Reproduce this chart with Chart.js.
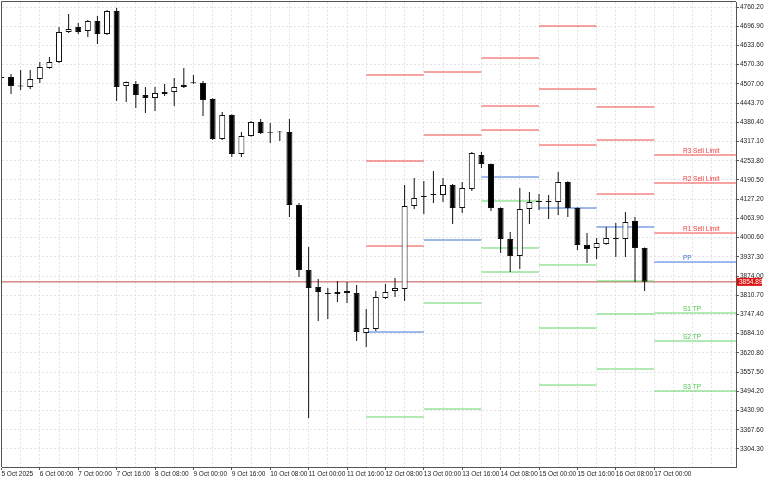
<!DOCTYPE html>
<html><head><meta charset="utf-8">
<script src="https://cdn.jsdelivr.net/npm/chart.js@4.4.1/dist/chart.umd.min.js"></script>
<style>html,body{margin:0;padding:0;background:#fff}#wrap{width:768px;height:480px}</style>
</head><body><div id="wrap"><canvas id="c" width="768" height="480"></canvas></div>
<script>
// ---- data (4h candles) ----
const openP  = [4529.6,4529.6,4501.6,4496.7,4523.0,4559.3,4579.0,4677.9,4694.4,4681.2,4714.1,4671.3,4747.0,4500.0,4506.6,4470.3,4460.5,4473.6,4480.2,4496.7,4512.5,4509.9,4457.2,4325.4,4404.4,4276.0,4335.3,4381.4,4348.0,4350.2,4348.5,4108.0,3893.9,3837.9,3818.1,3814.8,3824.7,3818.1,3686.4,3699.5,3801.7,3824.7,3831.3,4104.7,4134.4,4140.9,4140.9,4173.9,4098.1,4160.7,4272.7,4243.1,4098.1,3996.0,3940.0,4094.8,4121.2,4121.2,4117.9,4183.8,4098.1,3976.2,3966.4,3979.5,3999.3,3996.0,4055.3,3966.4];
const highP  = [4532.9,4539.5,4552.7,4552.7,4579.0,4595.5,4694.4,4737.1,4707.5,4717.4,4730.6,4750.0,4756.9,4514.5,4516.4,4496.7,4496.7,4506.6,4526.3,4559.3,4536.2,4516.4,4460.0,4414.3,4407.0,4348.5,4384.7,4391.3,4378.1,4351.9,4391.3,4114.6,3969.6,3864.2,3834.6,3857.6,3854.3,3844.5,3765.4,3824.7,3847.7,3867.5,4173.9,4197.0,4187.1,4220.0,4197.0,4177.2,4183.8,4282.6,4282.6,4245.0,4100.0,4019.0,4164.0,4150.8,4144.2,4140.9,4216.7,4186.0,4100.0,4015.7,3999.3,4035.6,4048.7,4084.9,4068.5,3968.0];
const lowP   = [4524.0,4473.6,4486.8,4490.1,4509.9,4557.0,4576.0,4674.6,4671.3,4661.4,4638.3,4668.0,4450.6,4447.3,4427.5,4411.0,4417.6,4467.0,4434.1,4493.4,4506.6,4401.2,4322.1,4322.1,4266.1,4266.1,4333.0,4341.9,4312.2,4318.8,4068.5,3870.8,3406.4,3725.9,3732.5,3788.5,3785.2,3660.0,3640.2,3692.9,3798.4,3805.0,3791.8,4094.8,4078.3,4114.6,4117.9,4045.4,4081.6,4154.1,4229.9,4088.2,3949.9,3887.3,3897.2,4045.4,4091.5,4061.9,4075.0,4068.5,3959.8,3917.0,3930.2,3977.0,3936.7,3936.7,3854.3,3824.7];
const closeP = [4526.3,4500.0,4498.3,4523.0,4562.6,4579.0,4677.9,4687.7,4677.9,4714.1,4671.3,4747.0,4496.7,4513.2,4470.3,4460.5,4476.9,4480.2,4496.7,4503.3,4509.9,4453.9,4325.4,4404.4,4276.0,4335.3,4381.4,4345.2,4345.2,4347.5,4108.0,3893.9,3834.6,3821.4,3814.8,3821.4,3818.1,3689.6,3702.8,3805.0,3821.4,3834.6,4104.7,4131.1,4137.6,4144.2,4173.9,4098.1,4164.0,4279.3,4243.1,4098.1,3996.0,3940.0,4094.8,4117.9,4117.9,4117.9,4183.8,4098.1,3976.2,3963.1,3982.8,3999.3,3996.0,4052.0,3966.4,3854.89];
const lastPrice = 3854.89;

const xLabels = ["5 Oct 2025","6 Oct 00:00","7 Oct 00:00","7 Oct 16:00","8 Oct 08:00","9 Oct 00:00","9 Oct 16:00","10 Oct 08:00","11 Oct 00:00","11 Oct 16:00","12 Oct 08:00","13 Oct 00:00","13 Oct 16:00","14 Oct 08:00","15 Oct 00:00","15 Oct 16:00","16 Oct 08:00","17 Oct 00:00"];
const yTicks = [3304.30,3367.60,3430.90,3494.20,3557.50,3620.80,3684.10,3747.40,3810.70,3874.00,3937.30,4000.60,4063.90,4127.20,4190.50,4253.80,4317.10,4380.40,4443.70,4507.00,4570.30,4633.60,4696.90,4760.20];

// daily pivot levels (period start = candle index)
const periodStart = [38,44,50,56,62,68];
const r3 = [4536.2,4546.1,4592.2,4697.6,4430.8,4272.7];
const r2 = [4252.9,4338.6,4434.1,4490.1,4322.1,4180.5];
const r1 = [3972.9,null,4355.0,4305.6,4144.2,4015.7];
const pp = [3689.6,3992.7,4200.2,4098.1,4035.6,3920.2];
const s1 = [3409.7,3785.2,4121.2,3910.4,3857.6,3752.2];
const s2 = [null,null,3966.4,3702.8,3749.0,3660.0];
const s3 = [null,3436.0,3887.3,3515.0,3567.8,3495.3];
const levelNames = ["R3 Sell Limit","R2 Sell Limit","R1 Sell Limit","PP","S1 TP","S2 TP","S3 TP"];

// ---- layout / style ----
const X_MIN = 0.06, X_MAX = 76.52, Y_MIN = 3245.0, Y_MAX = 4776.7;
const LABEL_AT = 71.0;
const RED = '#ee4848', BLUE = '#3f72da', GREEN = '#66d466';
const RED_T = '#ee3b3b', BLUE_T = '#3a6fd0', GREEN_T = '#4cc44c';
const FONT = "'Liberation Sans', Arial, sans-serif";

const levels = [
  {vals:r3, line:RED, text:RED_T}, {vals:r2, line:RED, text:RED_T}, {vals:r1, line:RED, text:RED_T},
  {vals:pp, line:BLUE, text:BLUE_T},
  {vals:s1, line:GREEN, text:GREEN_T}, {vals:s2, line:GREEN, text:GREEN_T}, {vals:s3, line:GREEN, text:GREEN_T}
];
levels.forEach((L, i) => L.name = levelNames[i]);

function levelPoints(vals) {
  const pts = [];
  vals.forEach((v, k) => {
    if (v === null) return;
    const a = periodStart[k];
    const b = k + 1 < periodStart.length ? periodStart[k + 1] : X_MAX;
    pts.push({x: a, y: v}, {x: b, y: v}, {x: b, y: null});
  });
  return pts;
}

const idx = openP.map((_, i) => i);
const up = i => closeP[i] >= openP[i];

const datasets = [];
datasets.push({
  type: 'line', data: [{x: X_MIN, y: lastPrice}, {x: X_MAX, y: lastPrice}],
  borderColor: '#c0504d', borderWidth: 1, pointRadius: 0, order: 6
});
levels.forEach(L => datasets.push({
  type: 'line', data: levelPoints(L.vals), borderColor: L.line, borderWidth: 1,
  pointRadius: 0, tension: 0, spanGaps: false, order: 5
}));
datasets.push({
  type: 'bar', data: idx.map(i => ({x: i, y: [lowP[i], highP[i]]})),
  backgroundColor: '#111', borderWidth: 0, maxBarThickness: 1, grouped: false, inflateAmount: 0, order: 2
});
datasets.push({
  type: 'bar', data: idx.map(i => ({x: i, y: [openP[i], closeP[i]]})),
  backgroundColor: idx.map(i => up(i) ? '#ffffff' : '#000000'),
  borderColor: '#111', borderWidth: 1, borderSkipped: false,
  maxBarThickness: 6, grouped: false, inflateAmount: 0, order: 1
});

const overlay = {
  id: 'overlay',
  afterDatasetsDraw(chart) {
    const {ctx, chartArea: a, scales: {x, y}} = chart;
    ctx.save();
    ctx.strokeStyle = '#555'; ctx.lineWidth = 1;
    ctx.beginPath();
    ctx.moveTo(a.left - 0.5, a.bottom);
    ctx.lineTo(a.left - 0.5, a.top - 0.5);
    ctx.lineTo(a.right, a.top - 0.5);
    ctx.stroke();
    ctx.font = '6.5px ' + FONT;
    ctx.textAlign = 'left'; ctx.textBaseline = 'bottom';
    const k = periodStart.length - 1;
    levels.forEach(L => {
      const v = L.vals[k];
      if (v === null) return;
      ctx.fillStyle = L.text;
      ctx.fillText(L.name, x.getPixelForValue(LABEL_AT), y.getPixelForValue(v) - 1);
    });
    ctx.restore();
  },
  afterDraw(chart) {
    const {ctx, chartArea: a, scales: {y}} = chart;
    const py = y.getPixelForValue(lastPrice);
    ctx.save();
    ctx.fillStyle = '#e01010';
    ctx.fillRect(a.right + 1, py - 4, 25, 8);
    ctx.fillStyle = '#fff';
    ctx.font = '6.5px ' + FONT;
    ctx.textAlign = 'left'; ctx.textBaseline = 'middle';
    ctx.fillText(lastPrice.toFixed(2), a.right + 3, py + 0.5);
    ctx.restore();
  }
};

Chart.defaults.font.family = FONT;
Chart.defaults.font.size = 6.5;
Chart.defaults.color = '#222';

new Chart(document.getElementById('c'), {
  type: 'bar',
  data: {datasets},
  options: {
    responsive: false, animation: false,
    layout: {padding: {left: 2, top: 2, right: 0, bottom: 0}},
    plugins: {legend: {display: false}, tooltip: {enabled: false}},
    scales: {
      x: {
        type: 'linear', min: X_MIN, max: X_MAX, offset: false,
        grid: {offset: false, color: '#e3e3e3', lineWidth: 1, tickLength: 3,
          tickColor: c => (c.tick && c.tick.value % 4 === 0 && c.tick.value / 4 < xLabels.length) ? '#555' : 'rgba(0,0,0,0)'},
        border: {display: true, color: '#555', dash: [2, 2]},
        afterBuildTicks: s => { const t = []; for (let v = 0; v <= 76; v += 2) t.push({value: v}); s.ticks = t; },
        ticks: {autoSkip: false, maxRotation: 0, minRotation: 0, align: 'start', padding: 0,
          callback: v => (v % 4 === 0 && v / 4 < xLabels.length) ? xLabels[v / 4] : ''},
        afterFit: s => { s.height = 13; s.paddingLeft = 0; s.paddingRight = 0; }
      },
      y: {
        type: 'linear', position: 'right', min: Y_MIN, max: Y_MAX, beginAtZero: false,
        grid: {color: '#e3e3e3', lineWidth: 1, tickLength: 3, tickColor: '#555'},
        border: {display: true, color: '#555', dash: [2, 2]},
        afterBuildTicks: s => { s.ticks = yTicks.map(v => ({value: v})); },
        ticks: {autoSkip: false, padding: 1, callback: v => Number(v).toFixed(2)},
        afterFit: s => { s.width = 32; s.paddingTop = 0; s.paddingBottom = 0; }
      }
    }
  },
  plugins: [overlay]
});
</script></body></html>
